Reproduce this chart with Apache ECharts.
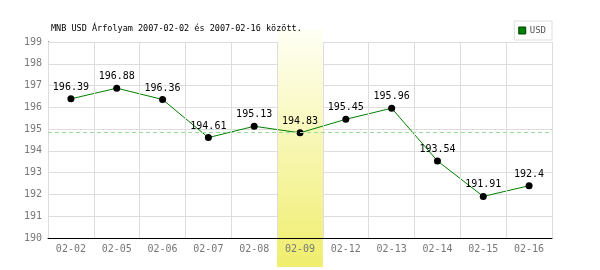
<!DOCTYPE html>
<html><head><meta charset="utf-8">
<script src="https://cdn.jsdelivr.net/npm/echarts@6/dist/echarts.min.js"></script>
<style>html,body{margin:0;padding:0;background:#fff}#c{width:600px;height:270px}</style>
</head><body><div id="c"></div>
<script>
const titleText = 'MNB USD Árfolyam 2007-02-02 és 2007-02-16 között.';
const seriesName = 'USD';
const categories = ['02-02','02-05','02-06','02-07','02-08','02-09','02-12','02-13','02-14','02-15','02-16'];
const values = [196.39,196.88,196.36,194.61,195.13,194.83,195.45,195.96,193.54,191.91,192.4];
const highlightCategory = '02-09';
const yMin = 190, yMax = 199, yStep = 1;

const mono = 'DejaVu Sans Mono';
const chart = echarts.init(document.getElementById('c'), null, {renderer:'canvas'});
chart.setOption({
  animation:false,
  backgroundColor:'#fff',
  title:{text:titleText,left:46,top:19,textStyle:{fontFamily:mono,fontSize:8.5,fontWeight:'normal',color:'#000'}},
  legend:{data:[seriesName],right:48,top:21,orient:'horizontal',padding:[5,6,5,4],itemWidth:7,itemHeight:7,itemGap:4,
    borderColor:'#ddd',borderWidth:1,icon:'rect',
    itemStyle:{color:'#008000',borderColor:'#004000',borderWidth:1},
    textStyle:{fontFamily:mono,fontSize:9,color:'#555',padding:[0,0,0,-1]}},
  grid:[
    {left:48,right:48,top:42,bottom:32},
    {left:48,right:48,top:29,bottom:3}
  ],
  xAxis:[
    {type:'category',data:categories,gridIndex:0,boundaryGap:true,z:3,
     axisLine:{lineStyle:{color:'#000',width:1}},axisTick:{show:false},
     axisLabel:{fontFamily:mono,fontSize:10,color:'#777',margin:6,interval:0},
     splitLine:{show:true,interval:0,lineStyle:{color:'#ddd',width:1}}},
    {type:'category',data:categories,gridIndex:1,show:false,boundaryGap:true}
  ],
  yAxis:[
    {type:'value',min:yMin,max:yMax,interval:yStep,gridIndex:0,z:0,
     axisLine:{show:true,lineStyle:{color:'#000',width:1}},axisTick:{show:false},
     axisLabel:{fontFamily:mono,fontSize:10,color:'#777',margin:6},
     splitLine:{show:true,lineStyle:{color:'#ddd',width:1}}},
    {type:'value',min:0,max:1,gridIndex:1,show:false}
  ],
  series:[
    {type:'bar',xAxisIndex:1,yAxisIndex:1,z:1,silent:true,barWidth:'100%',
     data:categories.map(c=>c===highlightCategory?1:'-'),
     itemStyle:{color:new echarts.graphic.LinearGradient(0,0,0,1,[{offset:0,color:'#fffff6'},{offset:1,color:'#f0ee6c'}])}},
    {name:seriesName,type:'line',xAxisIndex:0,yAxisIndex:0,z:2,data:values,
     symbol:'circle',symbolSize:7,
     itemStyle:{color:'#000'},
     lineStyle:{color:'#008000',width:1},
     label:{show:true,position:'top',distance:3,fontFamily:mono,fontSize:10,color:'#000'},
     markLine:{silent:true,symbol:'none',label:{show:false},
       lineStyle:{color:'#99dd99',type:[4,3],width:1},
       data:[{type:'average'}]}}
  ]
});
</script></body></html>
